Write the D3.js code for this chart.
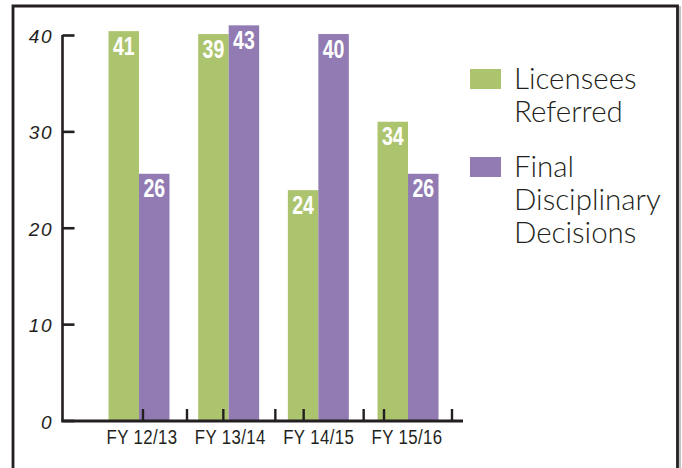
<!DOCTYPE html>
<html><head><meta charset="utf-8">
<script src="https://cdn.jsdelivr.net/npm/d3@7"></script>
<style>html,body{margin:0;padding:0;background:#fff;}svg{display:block;}</style>
</head><body>
<svg id="c" width="682" height="468"></svg>
<script>
// ---- data ----
const categories = ["FY 12/13", "FY 13/14", "FY 14/15", "FY 15/16"];
const seriesNames = ["Licensees Referred", "Final Disciplinary Decisions"];
const referredLabels = [41, 39, 24, 34];        // printed values
const decisionsLabels = [26, 43, 40, 26];
const referredPlotted = [40.4, 40.1, 23.9, 31.0]; // bar heights as read on the axis
const decisionsPlotted = [25.6, 41.0, 40.1, 25.6];
const yTicks = [0, 10, 20, 30, 40];
const legendLines = [["Licensees", "Referred"], ["Final", "Disciplinary", "Decisions"]];

const colors = ["#adc46f", "#917bb2"];
const ink = "#231f20";

const svg = d3.select("#c");

// frame
svg.append("path")
  .attr("d", "M13,470 L13,6 L677.5,6 L677.5,470")
  .attr("fill", "none").attr("stroke", ink).attr("stroke-width", 2.8);
svg.append("line").attr("x1", 680).attr("x2", 680).attr("y1", 6).attr("y2", 470)
  .attr("stroke", "#9a9a9a").attr("stroke-width", 1.2);

const y = d3.scaleLinear().domain([0, 40]).range([420.5, 35]);
const x0 = d3.scaleBand().domain(categories).range([108.5, 438.5]).paddingInner(0.32).paddingOuter(0);
const x1 = d3.scaleBand().domain(seriesNames).range([0, x0.bandwidth()]);

const data = categories.map((c, i) => ({
  cat: c,
  vals: [
    {s: seriesNames[0], v: referredPlotted[i], label: referredLabels[i], k: 0},
    {s: seriesNames[1], v: decisionsPlotted[i], label: decisionsLabels[i], k: 1}
  ]
}));

// bars
const g = svg.append("g");
const grp = g.selectAll("g.grp").data(data).join("g")
  .attr("transform", d => `translate(${x0(d.cat)},0)`);
grp.selectAll("rect").data(d => d.vals).join("rect")
  .attr("x", d => x1(d.s)).attr("width", x1.bandwidth())
  .attr("y", d => y(d.v)).attr("height", d => y(0) - y(d.v))
  .attr("fill", d => colors[d.k]);
grp.selectAll("text").data(d => d.vals).join("text")
  .attr("transform", d => `translate(${x1(d.s) + x1.bandwidth() / 2},${y(d.v) + 23.5}) scale(0.78,1)`)
  .attr("text-anchor", "middle")
  .attr("fill", "#fff")
  .style("font-family", "'Liberation Sans', Arial, sans-serif")
  .style("font-weight", "bold").style("font-size", "25px")
  .text(d => d.label);

// y axis
const yAxis = d3.axisRight(y).tickValues(yTicks).tickSize(12).tickFormat("");
const ya = svg.append("g").attr("transform", "translate(62.5,0)").call(yAxis);
ya.select(".domain").attr("stroke", ink).attr("stroke-width", 2.6).attr("d", `M0,${y(40)}V${y(0)}`);
ya.selectAll(".tick line").attr("stroke", ink).attr("stroke-width", 2.6);
svg.append("g").selectAll("text").data(yTicks).join("text")
  .attr("x", 53).attr("y", d => y(d) + 8)
  .attr("text-anchor", "end")
  .attr("fill", ink)
  .style("font-family", "'Liberation Sans', sans-serif")
  .style("font-style", "italic").style("font-weight", "normal")
  .style("font-size", "19px").style("letter-spacing", "1.5px")
  .text(d => d);

// x axis
const axisY = y(0) + 0.5;
svg.append("line").attr("x1", 61.2).attr("x2", 463).attr("y1", axisY).attr("y2", axisY)
  .attr("stroke", ink).attr("stroke-width", 2.8);
const tA = d3.scalePoint().domain(categories).range([143, 384]);
const tB = d3.scalePoint().domain(categories).range([187, 452]);
const tickPos = categories.flatMap(c => [tA(c), tB(c)]);
svg.append("g").selectAll("line").data(tickPos).join("line")
  .attr("x1", d => d).attr("x2", d => d).attr("y1", axisY).attr("y2", axisY - 12)
  .attr("stroke", ink).attr("stroke-width", 2.4);
const catX = d3.scalePoint().domain(categories).range([142, 407]);
svg.append("g").selectAll("text").data(categories).join("text")
  .attr("transform", c => `translate(${catX(c)},444) scale(0.8,1)`)
  .attr("text-anchor", "middle").attr("fill", ink)
  .style("font-family", "'Liberation Sans', Arial, sans-serif")
  .style("font-size", "21px").style("letter-spacing", "0.5px")
  .text(c => c);

// legend
const legTop = [69, 157];
const lg = svg.append("g");
seriesNames.forEach((s, i) => {
  lg.append("rect").attr("x", 470).attr("y", legTop[i]).attr("width", 31).attr("height", 20)
    .attr("fill", colors[i]);
  const t = lg.append("text").attr("x", 514).attr("y", legTop[i] + 20)
    .attr("fill", ink)
    .style("font-family", "Lato, 'Liberation Sans', sans-serif")
    .style("font-weight", "300").style("font-size", "29.5px");
  legendLines[i].forEach((ln, j) => {
    t.append("tspan").attr("x", 514).attr("dy", j === 0 ? 0 : 33).text(ln);
  });
});
</script>
</body></html>
